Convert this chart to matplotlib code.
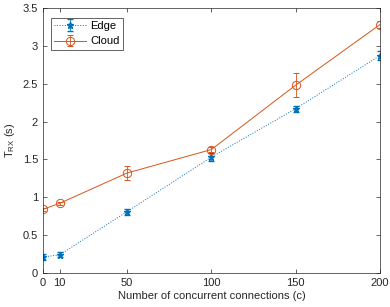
import matplotlib.pyplot as plt
import numpy as np

# connections and measured reception times
conns = [0, 10, 50, 100, 150, 200]
edge_mean = [0.21, 0.24, 0.81, 1.53, 2.17, 2.87]
edge_err = [0.04, 0.03, 0.04, 0.05, 0.04, 0.06]
cloud_mean = [0.84, 0.92, 1.32, 1.63, 2.48, 3.28]
cloud_err = [0.02, 0.02, 0.09, 0.03, 0.16, 0.05]

plt.rcParams['font.family'] = ['Liberation Sans', 'DejaVu Sans']
plt.rcParams['font.size'] = 8
plt.rcParams['mathtext.fontset'] = 'custom'
plt.rcParams['mathtext.rm'] = 'Liberation Sans'

fig = plt.figure(figsize=(3.9, 3.07), dpi=100)
ax = fig.add_axes([0.110, 0.111, 0.864, 0.863])

ax.errorbar(conns, edge_mean, yerr=edge_err, color='#0072BD', linestyle=':',
            marker='*', markersize=5, linewidth=0.7, capsize=2.5,
            elinewidth=0.6, label='Edge')
ax.errorbar(conns, cloud_mean, yerr=cloud_err, color='#D95319', linestyle='-',
            marker='o', markersize=6, markerfacecolor='none', linewidth=0.7,
            markeredgewidth=0.7, capsize=2.5, elinewidth=0.6, label='Cloud')

ax.set_xlim(0, 200)
ax.set_ylim(0, 3.5)
ax.set_xticks(conns)
ax.set_yticks(np.arange(0, 3.51, 0.5))
ax.set_yticklabels(['0', '0.5', '1', '1.5', '2', '2.5', '3', '3.5'])
ax.tick_params(direction='in', top=True, right=True, length=3, width=0.5,
               colors='#262626', labelcolor='#262626')
for s in ax.spines.values():
    s.set_linewidth(0.5)
    s.set_color('#262626')

ax.set_xlabel('Number of concurrent connections (c)', color='#262626', labelpad=2)
ax.set_ylabel(r'T$_{\mathrm{RX}}$ (s)', color='#262626', labelpad=4)

leg = ax.legend(loc='upper left', fancybox=False, edgecolor='#262626',
                framealpha=1, borderpad=0.3, handlelength=2.8,
                handletextpad=0.4, bbox_to_anchor=(0.008, 0.985))
leg.get_frame().set_linewidth(0.5)

plt.savefig('out.png', dpi=100)
